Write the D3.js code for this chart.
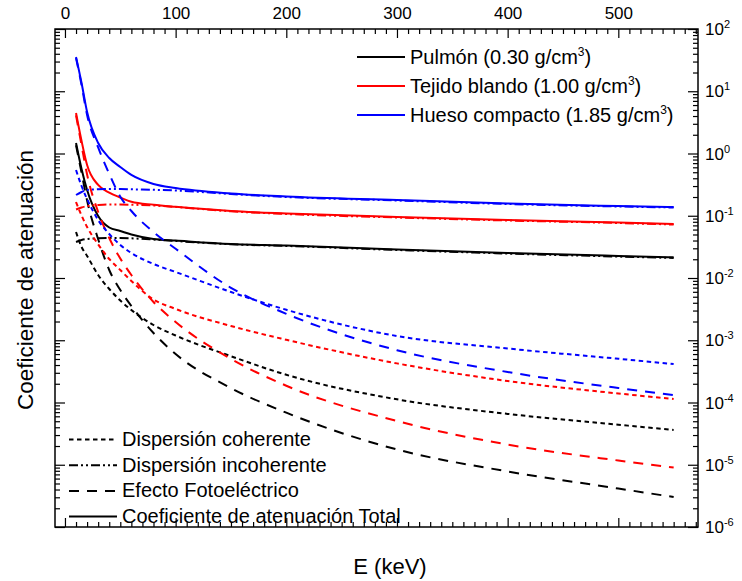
<!DOCTYPE html>
<html>
<head>
<meta charset="utf-8">
<script src="https://cdn.jsdelivr.net/npm/d3@7"></script>
<style>
  body { margin: 0; background: #fff; }
  svg { display: block; }
  text { font-family: "Liberation Sans", Arial, sans-serif; fill: #000; }
</style>
</head>
<body>
<svg id="chart" width="742" height="581"></svg>
<script>
// Photon energies (keV)
const energies = [10, 15, 20, 30, 40, 50, 60, 80, 100, 150, 200, 300, 400, 500, 550];

// Pulmón (0.30 g/cm3) — linear attenuation coefficients (cm^-1)
const lungTotal      = [1.475, 0.564, 0.2594, 0.0991, 0.0647, 0.0569, 0.050, 0.0423, 0.040, 0.0352, 0.0333, 0.0287, 0.0252, 0.0226, 0.0215];
const lungCoherent   = [0.0548, 0.0315, 0.0226, 0.01117, 0.00666, 0.00435, 0.00306, 0.001758, 0.001192, 0.000554, 0.0002786, 0.0001125, 0.0000656, 0.000044, 0.0000362];
const lungIncoherent = [0.0379, 0.0408, 0.0423, 0.0434, 0.0439, 0.0439, 0.0434, 0.0415, 0.0393, 0.0348, 0.0327, 0.0282, 0.0247, 0.0221, 0.0210];
const lungPhoto      = [1.36, 0.49, 0.175, 0.042, 0.01345, 0.00641, 0.00355, 0.001307, 0.000601, 0.0001703, 0.0000686, 0.0000176, 0.0000078, 0.00000415, 0.00000303];

// Tejido blando (1.00 g/cm3)
const softTotal      = [4.47, 1.588, 0.653, 0.312, 0.2346, 0.1965, 0.1681, 0.1504, 0.1392, 0.1192, 0.1087, 0.0955, 0.0854, 0.0779, 0.0737];
const softCoherent   = [0.1663, 0.1009, 0.0659, 0.0347, 0.0202, 0.01345, 0.00895, 0.00452, 0.00318, 0.001694, 0.001017, 0.000425, 0.0002215, 0.0001395, 0.0001138];
const softIncoherent = [0.126, 0.1357, 0.1434, 0.1488, 0.1516, 0.1516, 0.1504, 0.1462, 0.1382, 0.1179, 0.1067, 0.0937, 0.0839, 0.0765, 0.0723];
const softPhoto      = [4.1, 1.35, 0.46, 0.115, 0.0439, 0.02057, 0.01117, 0.00412, 0.001964, 0.000502, 0.000186, 0.0000504, 0.0000211, 0.0000117, 0.00000903];

// Hueso compacto (1.85 g/cm3)
const boneTotal      = [35.5, 13.6, 4.64, 1.475, 0.847, 0.607, 0.452, 0.324, 0.279, 0.228, 0.204, 0.179, 0.157, 0.1434, 0.138];
const boneCoherent   = [0.543, 0.3005, 0.1858, 0.0854, 0.0509, 0.0339, 0.0252, 0.01678, 0.01249, 0.005957, 0.003084, 0.00117, 0.000737, 0.000504, 0.000415];
const boneIncoherent = [0.2154, 0.2407, 0.2594, 0.266, 0.269, 0.269, 0.266, 0.2612, 0.2545, 0.2236, 0.2001, 0.1758, 0.1545, 0.1408, 0.1357];
const bonePhoto      = [34.2, 12.6, 4.155, 1.25, 0.47, 0.2023, 0.1192, 0.0548, 0.02944, 0.00696, 0.00266, 0.000692, 0.000309, 0.000171, 0.000132];

// Axis ticks
const topTickValues = [0, 100, 200, 300, 400, 500];
const decadeExponents = [2, 1, 0, -1, -2, -3, -4, -5, -6];

// Legend entries
const materialLabels = ["Pulmón (0.30 g/cm", "Tejido blando (1.00 g/cm", "Hueso compacto (1.85 g/cm"];
const materialColors = ["#000000", "#ff0000", "#0000ff"];
const componentLabels = ["Dispersión coherente", "Dispersión incoherente", "Efecto Fotoeléctrico", "Coeficiente de atenuación Total"];
const componentDashes = ["4.5,3.5", "9,3,2,3,2,3", "10,8", null];

const svg = d3.select("#chart");
const plotLeft = 55, plotRight = 698, plotTop = 29, plotBottom = 527;

const x = d3.scaleLinear().domain([-9, 572]).range([plotLeft, plotRight]);
const y = d3.scaleLog().domain([1e-6, 1e2]).range([plotBottom, plotTop]);

// clip region for the curves
svg.append("defs").append("clipPath").attr("id", "plot-clip")
  .append("rect").attr("x", plotLeft).attr("y", plotTop)
  .attr("width", plotRight - plotLeft).attr("height", plotBottom - plotTop);

const seriesByMaterial = [
  [lungCoherent, lungIncoherent, lungPhoto, lungTotal],
  [softCoherent, softIncoherent, softPhoto, softTotal],
  [boneCoherent, boneIncoherent, bonePhoto, boneTotal]
];

const line = d3.line()
  .x(d => x(d[0]))
  .y(d => y(d[1]))
  .curve(d3.curveMonotoneX);
const curves = svg.append("g").attr("clip-path", "url(#plot-clip)");

seriesByMaterial.forEach((series, m) => {
  series.forEach((vals, c) => {
    const pts = energies.map((e, i) => [e, vals[i]]);
    curves.append("path")
      .attr("d", line(pts))
      .attr("fill", "none")
      .attr("stroke", materialColors[m])
      .attr("stroke-width", 2)
      .attr("stroke-dasharray", componentDashes[c])
      .attr("stroke-linejoin", "round");
  });
});

// ---- Axes ----
const minorX = d3.range(10, 571, 10).filter(v => v % 100 !== 0);
const majorY = decadeExponents.map(p => Math.pow(10, p));
const minorY = [];
for (let p = -6; p < 2; p++) for (let k = 2; k <= 9; k++) minorY.push(k * Math.pow(10, p));

function styleAxis(g) {
  g.select(".domain").remove();
  g.selectAll(".tick line").attr("stroke", "#000").attr("stroke-width", 1.2);
}

// top
svg.append("g").attr("transform", `translate(0,${plotTop})`)
  .call(d3.axisTop(x).tickValues(topTickValues).tickSize(-9).tickPadding(10).tickFormat(d3.format("d")))
  .call(styleAxis)
  .call(g => g.selectAll("text").attr("font-size", 17).attr("font-family", "Liberation Sans, Arial, sans-serif"));
svg.append("g").attr("transform", `translate(0,${plotTop})`)
  .call(d3.axisTop(x).tickValues(minorX).tickSize(-5).tickFormat(""))
  .call(styleAxis);

// bottom
svg.append("g").attr("transform", `translate(0,${plotBottom})`)
  .call(d3.axisBottom(x).tickValues(topTickValues).tickSize(-9).tickFormat(""))
  .call(styleAxis);
svg.append("g").attr("transform", `translate(0,${plotBottom})`)
  .call(d3.axisBottom(x).tickValues(minorX).tickSize(-5).tickFormat(""))
  .call(styleAxis);

// left
svg.append("g").attr("transform", `translate(${plotLeft},0)`)
  .call(d3.axisLeft(y).tickValues(majorY).tickSize(-10).tickFormat(""))
  .call(styleAxis);
svg.append("g").attr("transform", `translate(${plotLeft},0)`)
  .call(d3.axisLeft(y).tickValues(minorY).tickSize(-5).tickFormat(""))
  .call(styleAxis);

// right
svg.append("g").attr("transform", `translate(${plotRight},0)`)
  .call(d3.axisRight(y).tickValues(majorY).tickSize(-10).tickFormat(""))
  .call(styleAxis);
svg.append("g").attr("transform", `translate(${plotRight},0)`)
  .call(d3.axisRight(y).tickValues(minorY).tickSize(-5).tickFormat(""))
  .call(styleAxis);

// right-hand power-of-ten labels
decadeExponents.forEach(p => {
  const t = svg.append("text")
    .attr("x", plotRight + 7)
    .attr("y", y(Math.pow(10, p)) + 6)
    .attr("font-size", 17);
  t.append("tspan").text("10");
  t.append("tspan").attr("dy", -7).attr("font-size", 11).text(String(p));
});

// frame
svg.append("rect")
  .attr("x", plotLeft).attr("y", plotTop)
  .attr("width", plotRight - plotLeft).attr("height", plotBottom - plotTop)
  .attr("fill", "none").attr("stroke", "#000").attr("stroke-width", 1.5);

// axis titles
svg.append("text")
  .attr("x", 390).attr("y", 574)
  .attr("text-anchor", "middle").attr("font-size", 22)
  .text("E (keV)");
svg.append("text")
  .attr("transform", "translate(33,280) rotate(-90)")
  .attr("text-anchor", "middle").attr("font-size", 22.5)
  .text("Coeficiente de atenuación");

// ---- Legends ----
const matLegend = svg.append("g");
materialLabels.forEach((lab, i) => {
  const yy = 57 + i * 29;
  matLegend.append("line").attr("x1", 357).attr("x2", 405).attr("y1", yy).attr("y2", yy)
    .attr("stroke", materialColors[i]).attr("stroke-width", 2);
  const t = matLegend.append("text").attr("x", 410).attr("y", yy + 7).attr("font-size", 20);
  t.append("tspan").text(lab);
  t.append("tspan").attr("dy", -8).attr("font-size", 12).text("3");
  t.append("tspan").attr("dy", 8).text(")");
});

const compLegend = svg.append("g");
componentLabels.forEach((lab, i) => {
  const yy = 439.5 + i * 25.7;
  compLegend.append("line").attr("x1", 69).attr("x2", 117).attr("y1", yy).attr("y2", yy)
    .attr("stroke", "#000").attr("stroke-width", 2)
    .attr("stroke-dasharray", componentDashes[i]);
  compLegend.append("text").attr("x", 122).attr("y", yy + 6.5).attr("font-size", 20).text(lab);
});
</script>
</body>
</html>
